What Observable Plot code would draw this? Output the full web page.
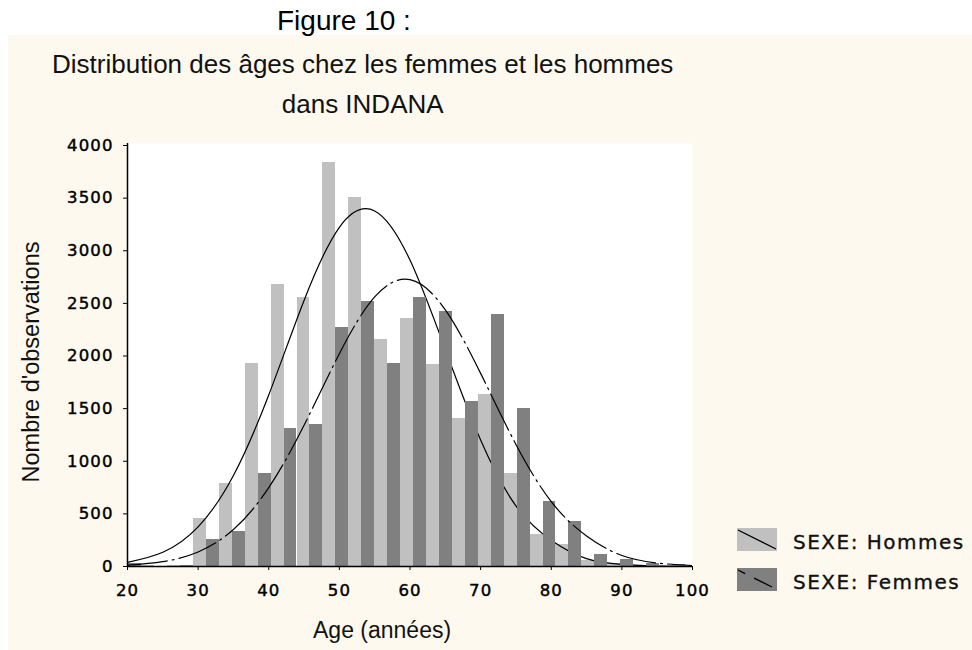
<!DOCTYPE html>
<html><head><meta charset="utf-8">
<script src="https://cdn.jsdelivr.net/npm/d3@7"></script>
<script src="https://cdn.jsdelivr.net/npm/@observablehq/plot@0.6"></script>
<style>
body{margin:0;background:#fff;}
#page{position:relative;width:972px;height:650px;overflow:hidden;background:#fff;font-family:"Liberation Sans",Arial,sans-serif;color:#000;}
#panel{position:absolute;left:8px;top:35px;width:964px;height:615px;background:#fdf9ee;}
.t{position:absolute;white-space:nowrap;line-height:1;color:#111;}
#chart{position:absolute;left:0;top:120px;}
#chart svg text{stroke:#000;stroke-width:0.45px;}
#legend{position:absolute;left:730px;top:520px;}
</style></head><body>
<div id="page">
  <div id="panel"></div>
  <div class="t" style="left:277px;top:7px;font-size:28px;color:#000;">Figure 10 :</div>
  <div class="t" style="left:52px;top:51px;font-size:26px;text-align:center;">Distribution des âges chez les femmes et les hommes<br><span style="display:inline-block;margin-top:14px;">dans INDANA</span></div>
  <div class="t" style="left:32px;top:362px;font-size:23.5px;transform:translate(-50%,-50%) rotate(-90deg);">Nombre d'observations</div>
  <div class="t" style="left:313px;top:619px;font-size:23px;">Age (années)</div>
  <div id="chart"></div>
  <svg id="legend" width="242" height="80"></svg>
</div>
<script>
// ---- data ----
const xTicks = [20, 30, 40, 50, 60, 70, 80, 90, 100];
const yTicks = [0, 500, 1000, 1500, 2000, 2500, 3000, 3500, 4000];
// lower edge (age, years) of each histogram class
const binStart = [18.33, 22.0, 25.67, 29.33, 33.0, 36.67, 40.33, 44.0, 47.67, 51.33, 55.0, 58.67,
                  62.33, 66.0, 69.67, 73.33, 77.0, 80.67, 84.33, 88.0, 91.67, 95.33, 99.0];
const binWidth = 3.667;
const hommes = [0, 5, 12, 453, 791, 1931, 2676, 2559, 3835, 3509, 2160, 2353,
                1916, 1403, 1631, 887, 304, 209, 57, 28, 10, 5, 3];
const femmes = [25, 3, 8, 256, 335, 887, 1308, 1346, 2274, 2521, 1931, 2559,
                2426, 1571, 2391, 1498, 620, 430, 111, 66, 28, 15, 10];
// fitted normal curves
const fitAges   = [20, 25, 30, 35, 40, 45, 50, 55, 60, 65, 70, 75, 80, 85, 90, 95, 100];
const hommesFit = [40, 135, 377, 865, 1630, 2528, 3223, 3378, 2911, 2062, 1201, 576, 250, 75, 20, 4, 1];
const femmesFit = [13, 46, 138, 351, 749, 1342, 2022, 2561, 2725, 2438, 1835, 1160, 616, 290, 104, 33, 9];
const seriesNames = ["SEXE: Hommes", "SEXE: Femmes"];
const seriesFill = ["#c0c0c0", "#808080"];

// ---- tables ----
const hRows = binStart.map((s, i) => ({a: s, b: s + binWidth / 2, v: hommes[i]}));
const fRows = binStart.map((s, i) => ({a: s + binWidth / 2, b: s + binWidth, v: femmes[i]}));
const hFit = fitAges.map((a, i) => ({age: a, n: hommesFit[i]}));
const fFit = fitAges.map((a, i) => ({age: a, n: femmesFit[i]}));

const chart = Plot.plot({
  width: 972, height: 530,
  marginLeft: 127, marginRight: 280, marginTop: 23, marginBottom: 84,
  x: {domain: [20, 100], axis: null},
  y: {domain: [0, 4000], axis: null, insetTop: 2},
  style: "font-family:'DejaVu Sans',sans-serif;font-size:16.5px;letter-spacing:1.1px;background:transparent;color:#000;overflow:visible;",
  marks: [
    Plot.frame({fill: "white"}),
    Plot.rect(hRows, {x1: "a", x2: "b", y1: () => 0, y2: "v", fill: seriesFill[0], clip: true, shapeRendering: "crispEdges"}),
    Plot.line(hFit, {x: "age", y: "n", curve: "natural", stroke: "#000", strokeWidth: 1.2, clip: true}),
    Plot.rect(fRows, {x1: "a", x2: "b", y1: () => 0, y2: "v", fill: seriesFill[1], clip: true, shapeRendering: "crispEdges"}),
    Plot.line(fFit, {x: "age", y: "n", curve: "natural", stroke: "#000", strokeWidth: 1.2, strokeDasharray: "40,5,2,5", clip: true}),
    Plot.ruleX([20], {stroke: "#000", strokeWidth: 1.5}),
    Plot.ruleY([0], {stroke: "#000", strokeWidth: 1.5}),
    Plot.axisX(xTicks, {tickSize: 4, tickPadding: 14, tickFormat: d => String(d), label: null}),
    Plot.axisY(yTicks, {tickSize: 4, tickPadding: 10, tickFormat: d => String(d), label: null})
  ]
});
document.getElementById("chart").appendChild(chart);

// ---- legend ----
const lg = d3.select("#legend");
const dashes = [null, "8,10,20"];
seriesNames.forEach((name, i) => {
  const y0 = 8 + i * 40;
  lg.append("rect").attr("x", 7).attr("y", y0).attr("width", 40).attr("height", 23).attr("fill", seriesFill[i]);
  lg.append("line").attr("x1", 8).attr("y1", y0 + 2).attr("x2", 46).attr("y2", y0 + 21)
    .attr("stroke", "#000").attr("stroke-width", 1.3).attr("stroke-dasharray", dashes[i]);
  lg.append("text").attr("x", 63).attr("y", y0 + 21).text(name)
    .attr("font-family", "'DejaVu Sans',sans-serif").attr("font-size", 20).attr("letter-spacing", 1.5)
    .attr("fill", "#111").attr("stroke", "#111").attr("stroke-width", 0.35);
});
</script>
</body></html>
